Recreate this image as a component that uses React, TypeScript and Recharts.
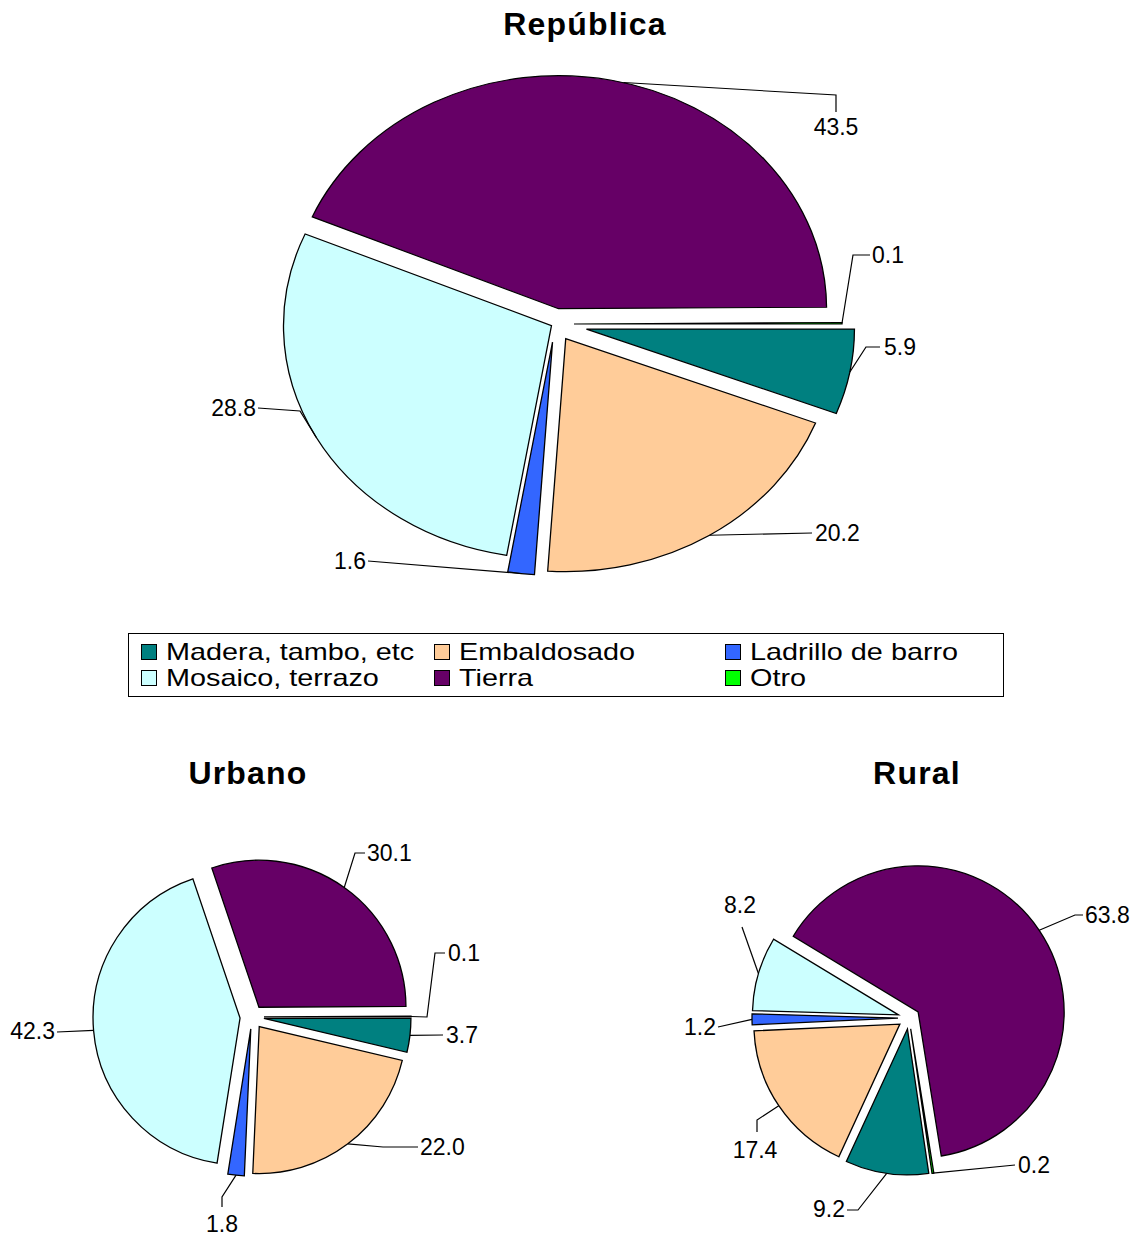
import React from "react";
import { PieChart, Pie, Cell } from "recharts";

// categories in slice order (clockwise)
const CATEGORIES = ["Madera, tambo, etc", "Embaldosado", "Ladrillo de barro", "Mosaico, terrazo", "Tierra", "Otro"];
const COLORS = ["#008080", "#FFCC99", "#3366FF", "#CCFFFF", "#660066", "#00FF00"];

const REPUBLICA = [5.9, 20.2, 1.6, 28.8, 43.5, 0.1];
const URBANO = [3.7, 22.0, 1.8, 42.3, 30.1, 0.1];
const RURAL = [9.2, 17.4, 1.2, 8.2, 63.8, 0.2];

// legend is laid out row-wise, 3 columns
const LEGEND_ORDER = [0, 1, 2, 3, 4, 5];

const FONT = "'Liberation Sans', Arial, Helvetica, sans-serif";
const RAD = Math.PI / 180;

type Pt = [number, number];
type LabelSpec = { via: Pt[]; text: Pt; anchor: "start" | "middle" | "end"; edge?: number };

type PieProps = {
  values: number[];
  width: number;
  height: number;
  cx: number; // screen px
  cy: number;
  r: number;
  startCompass: number;
  explode: number[];
  labels: LabelSpec[];
  sy?: number;
};

function ExplodedPie({ values, width, height, cx, cy, r, startCompass, explode, labels, sy = 1 }: PieProps) {
  const total = values.reduce((a, b) => a + b, 0);
  const data = values.map((v, i) => ({ name: CATEGORIES[i], value: v }));
  const startAngle = 90 - startCompass;
  let acc = 0;
  const mids = values.map((v) => {
    const m = startCompass + (360 * (acc + v / 2)) / total;
    acc += v;
    return m;
  });
  // chart is drawn in "circle space", then squashed by sy
  const ccy = cy / sy;

  const renderLabel = (i: number, pcx: number, pcy: number) => (p: any) => {
    if (p.index !== i) return <g />;
    const spec = labels[i];
    const ang = spec.edge ?? mids[i];
    const ex = pcx + r * Math.sin(ang * RAD);
    const ey = pcy - r * Math.cos(ang * RAD);
    const pts = [[ex, ey], ...spec.via.map(([dx, dy]) => [cx + dx, ccy + dy / sy])];
    const tx = cx + spec.text[0];
    const ty = ccy + spec.text[1] / sy;
    return (
      <g>
        <polyline points={pts.map((q) => q.join(",")).join(" ")} fill="none" stroke="#000" strokeWidth={1.2} />
        <text
          x={0}
          y={0}
          transform={`translate(${tx} ${ty}) scale(1 ${1 / sy})`}
          textAnchor={spec.anchor}
          dominantBaseline="central"
          fontFamily={FONT}
          fontSize={23}
          fill="#000"
        >
          {p.value.toFixed(1)}
        </text>
      </g>
    );
  };

  return (
    <PieChart width={width} height={height / sy} margin={{ top: 0, right: 0, bottom: 0, left: 0 }}>
      {values.map((_, i) => {
        const pcx = cx + explode[i] * Math.sin(mids[i] * RAD);
        const pcy = ccy - explode[i] * Math.cos(mids[i] * RAD);
        return (
          <Pie
            key={i}
            data={data}
            dataKey="value"
            cx={pcx}
            cy={pcy}
            innerRadius={0}
            outerRadius={r}
            startAngle={startAngle}
            endAngle={startAngle - 360}
            isAnimationActive={false}
            labelLine={false}
            label={renderLabel(i, pcx, pcy)}
          >
            {data.map((d, j) => (
              <Cell
                key={j}
                fill={j === i ? COLORS[j] : "none"}
                stroke={j === i ? "#000" : "none"}
                strokeWidth={1.3}
              />
            ))}
          </Pie>
        );
      })}
    </PieChart>
  );
}

const REP_LABELS: LabelSpec[] = [
  { via: [[311, 23], [325, 23]], text: [329, 23], anchor: "start" },
  { via: [[257, 209]], text: [260, 209], anchor: "start" },
  { via: [[-187, 237]], text: [-189, 237], anchor: "end" },
  { via: [[-255, 87], [-297, 84]], text: [-299, 84], anchor: "end" },
  { via: [[281, -229], [281, -212]], text: [281, -197], anchor: "middle", edge: 14 },
  { via: [[298, -69], [315, -69]], text: [317, -69], anchor: "start" },
];

const URB_LABELS: LabelSpec[] = [
  { via: [[191, 18]], text: [194, 18], anchor: "start" },
  { via: [[131, 130], [166, 130]], text: [168, 130], anchor: "start" },
  { via: [[-30, 180], [-30, 190]], text: [-30, 207], anchor: "middle" },
  { via: [[-195, 15]], text: [-197, 14], anchor: "end" },
  { via: [[103, -164], [113, -164]], text: [115, -164], anchor: "start" },
  { via: [[175, 0], [183, -64], [193, -64]], text: [196, -64], anchor: "start" },
];

const RUR_LABELS: LabelSpec[] = [
  { via: [[-51, 192], [-62, 192]], text: [-64, 191], anchor: "end" },
  { via: [[-152, 102], [-152, 114]], text: [-154, 132], anchor: "middle" },
  { via: [[-191, 9]], text: [-193, 9], anchor: "end" },
  { via: [[-167, -91]], text: [-169, -113], anchor: "middle" },
  { via: [[166, -103], [174, -103]], text: [176, -103], anchor: "start" },
  { via: [[106, 147]], text: [109, 147], anchor: "start" },
];

const SY = 233 / 268;

function Title({ text, x, y }: { text: string; x: number; y: number }) {
  return (
    <div
      style={{
        position: "absolute",
        left: x,
        top: y,
        transform: "translateX(-50%)",
        fontFamily: FONT,
        fontWeight: "bold",
        fontSize: 32,
        lineHeight: "32px",
        letterSpacing: 1.2,
        whiteSpace: "nowrap",
        color: "#000",
      }}
    >
      {text}
    </div>
  );
}

export default function App() {
  const colLeft = [12, 305, 596];
  return (
    <div style={{ position: "absolute", left: 0, top: 0, width: 1136, height: 1237, background: "#fff", overflow: "hidden" }}>
      <Title text="República" x={585} y={8} />
      <div style={{ position: "absolute", left: 0, top: 0, transform: `scaleY(${SY})`, transformOrigin: "0 0" }}>
        <ExplodedPie
          values={REPUBLICA}
          width={1136}
          height={620}
          cx={555}
          cy={324}
          r={268}
          startCompass={90}
          explode={[32, 20, 21, 4, 18, 19]}
          labels={REP_LABELS}
          sy={SY}
        />
      </div>

      {/* legend */}
      <div
        style={{
          position: "absolute",
          left: 128,
          top: 633,
          width: 874,
          height: 62,
          border: "1px solid #000",
          fontFamily: FONT,
          fontSize: 24,
        }}
      >
        {LEGEND_ORDER.map((k, n) => (
          <div
            key={k}
            style={{
              position: "absolute",
              left: colLeft[n % 3],
              top: n < 3 ? 6 : 32,
              height: 24,
              display: "flex",
              alignItems: "center",
              whiteSpace: "nowrap",
            }}
          >
            <span
              style={{
                width: 14,
                height: 14,
                background: COLORS[k],
                border: "1px solid #000",
                marginRight: 9,
                display: "inline-block",
              }}
            />
            <span
              style={{
                lineHeight: "24px",
                display: "inline-block",
                transform: "scaleX(1.2)",
                transformOrigin: "0 50%",
              }}
            >
              {CATEGORIES[k]}
            </span>
          </div>
        ))}
      </div>

      <Title text="Urbano" x={248} y={757} />
      <Title text="Rural" x={917} y={757} />

      <div style={{ position: "absolute", left: 0, top: 0 }}>
        <ExplodedPie
          values={URBANO}
          width={560}
          height={1237}
          cx={252}
          cy={1017}
          r={147}
          startCompass={90}
          explode={[12, 12, 12, 12, 12, 12]}
          labels={URB_LABELS}
        />
      </div>
      <div style={{ position: "absolute", left: 0, top: 0 }}>
        <ExplodedPie
          values={RURAL}
          width={1136}
          height={1237}
          cx={909}
          cy={1018}
          r={146}
          startCompass={171.6}
          explode={[11, 11, 11, 11, 11, 11]}
          labels={RUR_LABELS}
        />
      </div>
    </div>
  );
}
